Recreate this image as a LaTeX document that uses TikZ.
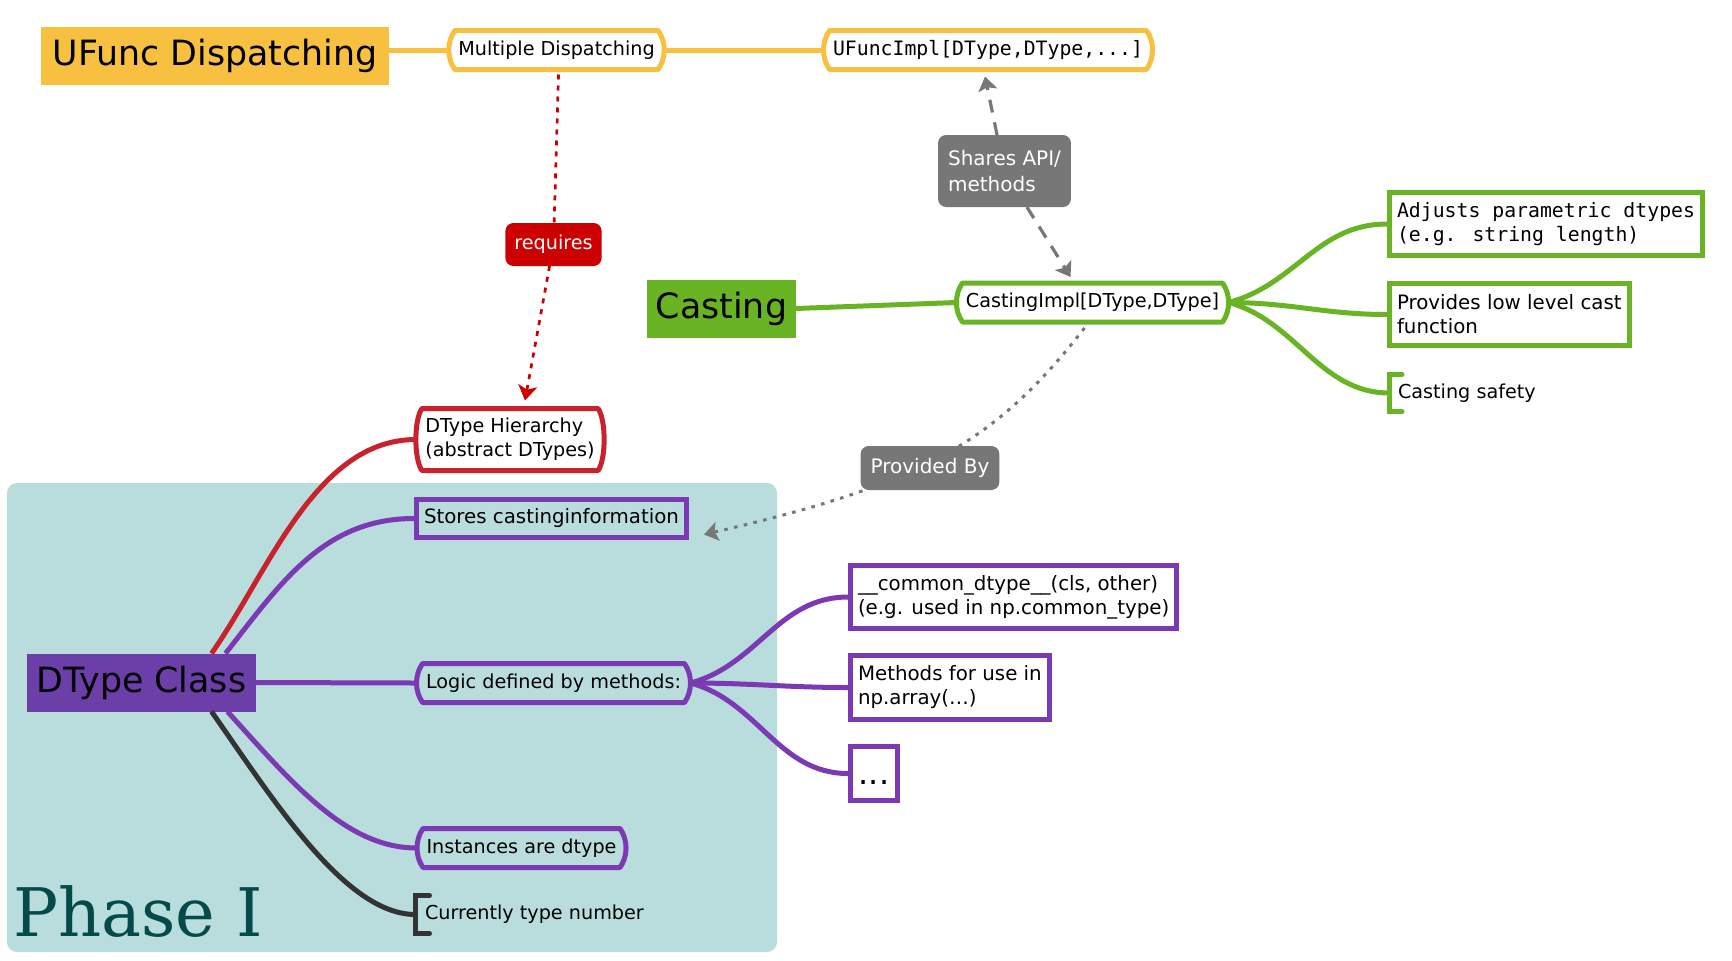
\documentclass[tikz,border=0pt]{standalone}
\usepackage{fontspec}
\setmainfont{DejaVu Sans}
\newfontfamily\monofont{DejaVu Sans Mono}
\newfontfamily\phasefont{DejaVu Serif}
\usetikzlibrary{arrows.meta,calc}
\definecolor{ufyellow}{HTML}{F7C040}
\definecolor{cgreen}{HTML}{68B425}
\definecolor{dpurple}{HTML}{6B3EA8}
\definecolor{ppurple}{HTML}{7B39B4}
\definecolor{rred}{HTML}{C8232D}
\definecolor{reqred}{HTML}{CC0000}
\definecolor{labgray}{HTML}{777777}
\definecolor{darkline}{HTML}{333333}
\definecolor{tealbg}{HTML}{B8DDDC}
\definecolor{phasecol}{HTML}{054A4A}
\tikzset{
  basefont/.style={font=\fontsize{9.6}{12}\selectfont},
  rectfont/.style={font=\fontsize{9.9}{12}\selectfont},
  monotext/.style={font=\monofont\fontsize{9.9}{12}\selectfont},
  titlebox/.style={font=\fontsize{17.4}{20}\selectfont, minimum height=29pt, inner xsep=4.5pt, inner ysep=0pt, outer sep=0pt, text=black},
  pillnode/.style={basefont, inner xsep=1.75pt, inner ysep=0pt, outer sep=0pt, minimum height=19.5pt, align=left},
  rectnode/.style={rectfont, draw=#1, line width=2.5pt, inner xsep=3.75pt, inner ysep=0pt, minimum height=19pt, align=left},
  bracketnode/.style={basefont, inner xsep=4.25pt, inner ysep=0pt, outer sep=0pt, minimum height=18.5pt},
  pillline/.style={line width=2.5pt, draw=#1, line join=round},
  bracketline/.style={line width=2.5pt, draw=#1, line cap=round, line join=miter},
  conn/.style={line width=2.5pt, draw=#1},
  labelbox/.style={fill=#1, rounded corners=4pt, text=white, inner xsep=5pt, inner ysep=0pt, outer sep=0pt, font=\fontsize{10}{13}\selectfont, align=left},
  gtip/.tip={Stealth[length=7pt,width=9.5pt,inset=1.5pt]},
  rtip/.tip={Stealth[length=7.5pt,width=9.5pt,inset=2pt]},
  dashline/.style={draw=labgray, line width=1.6pt, dash pattern=on 6.5pt off 5pt},
  dotline/.style={draw=labgray, line width=1.5pt, dash pattern=on 1.8pt off 3.2pt},
  reqline/.style={draw=reqred, line width=1.35pt, dash pattern=on 2.5pt off 3pt},
}
\newcommand\pillborder[2]{\draw[pillline=#2] (#1.north west) -- (#1.north east) to[out=-55,in=55,distance=7pt] (#1.south east) -- (#1.south west) to[out=125,in=-125,distance=7pt] (#1.north west) -- cycle;}
\begin{document}
\begin{tikzpicture}[x=0.5pt,y=-0.5pt]
\useasboundingbox (0,0) rectangle (1732,960);
% background region
\fill[tealbg, rounded corners=5pt] (7,483) rectangle (777,952);
\node[anchor=base west, inner sep=0pt, text=phasecol, font=\phasefont\fontsize{33.5}{34}\selectfont] (phase) at (13,936) {Phase I};

% nodes
\node[titlebox, fill=ufyellow, minimum width=174pt] (uf) at (215,56) {UFunc Dispatching};
\node[pillnode] (md) at (556.5,50) {Multiple Dispatching};
\node[pillnode, monotext] (ufi) at (988,50) {UFuncImpl[DType,DType,...]};
\node[titlebox, fill=cgreen, minimum width=74.5pt] (cast) at (721.5,308.5) {Casting};
\node[pillnode] (ci) at (1092.5,302.5) {CastingImpl[DType,DType]};
\node[rectnode=cgreen, anchor=west, minimum height=31.5pt, monotext] (adj) at (1387,224) {Adjusts parametric dtypes\\(e.g. string length)};
\node[rectnode=cgreen, anchor=west, minimum height=31pt] (prov) at (1387,314.5) {Provides low level cast\\function};
\node[bracketnode, anchor=west] (safe) at (1389.5,393) {Casting safety};
\node[pillnode, minimum height=31pt] (dth) at (510,439.5) {DType Hierarchy\\(abstract DTypes)};
\node[rectnode=ppurple, anchor=west] (sc) at (414,518.5) {Stores castinginformation};
\node[titlebox, fill=dpurple, minimum width=114.5pt] (dc) at (141.5,682.5) {DType Class};
\node[pillnode] (logic) at (553.5,683) {Logic defined by methods:};
\node[pillnode] (inst) at (521.5,848) {Instances are dtype};
\node[bracketnode, anchor=west, inner xsep=4.75pt, minimum height=19pt] (curr) at (415.5,914.5) {Currently type number};
\node[rectnode=ppurple, anchor=west, minimum height=31.5pt] (common) at (848,597) {\_\_common\_dtype\_\_(cls, other)\\(e.g. used in np.common\_type)};
\node[rectnode=ppurple, anchor=west, minimum height=32pt] (meth) at (848,687.5) {Methods for use in\\np.array(…)};
\node[rectnode=ppurple, minimum height=27pt, minimum width=23.5pt, font=\fontsize{16}{16}\selectfont, text height=12pt, text depth=1pt] (dots) at (874,773.5) {...};

% pill outlines
\pillborder{md}{ufyellow}
\pillborder{ufi}{ufyellow}
\pillborder{ci}{cgreen}
\pillborder{dth}{rred}
\pillborder{logic}{ppurple}
\pillborder{inst}{ppurple}

% brackets
\draw[bracketline=cgreen] ([xshift=6.25pt]safe.north west) -- (safe.north west) -- (safe.south west) -- ([xshift=6.25pt]safe.south west);
\draw[bracketline=darkline] ([xshift=7pt]curr.north west) -- (curr.north west) -- (curr.south west) -- ([xshift=7pt]curr.south west);

% mind map connectors
\draw[conn=ufyellow] (uf.east |- md.west) -- ([xshift=-3pt]md.west);
\draw[conn=ufyellow] ([xshift=3pt]md.east) -- ([xshift=-3pt]ufi.west);
\draw[conn=cgreen] (cast.east) -- ([xshift=-3pt]ci.west);
\draw[conn=cgreen] ([xshift=3pt]ci.east) to[out=15,in=180,distance=35pt] (adj.west);
\draw[conn=cgreen] ([xshift=3pt]ci.east) to[out=0,in=180] (prov.west);
\draw[conn=cgreen] ([xshift=3pt]ci.east) to[out=-15,in=180,distance=35pt] (safe.west);
\draw[conn=rred] ([xshift=35pt]dc.north) to[out=55,in=180,out distance=50pt,in distance=50pt] ([xshift=-3pt]dth.west);
\draw[conn=ppurple] ([xshift=42pt]dc.north) to[out=52,in=180,out distance=45pt,in distance=45pt] (sc.west);
\draw[conn=ppurple] (dc.east) -- ([xshift=-3pt]logic.west);
\draw[conn=ppurple] ([xshift=43pt]dc.south) to[out=-48,in=180,out distance=50pt,in distance=35pt] ([xshift=-3pt]inst.west);
\draw[conn=darkline] ([xshift=35pt]dc.south) to[out=-55,in=180,out distance=55pt,in distance=35pt] (curr.west);
\draw[conn=ppurple] ([xshift=3pt]logic.east) to[out=15,in=180,distance=35pt] (common.west);
\draw[conn=ppurple] ([xshift=3pt]logic.east) to[out=0,in=180] (meth.west);
\draw[conn=ppurple] ([xshift=3pt]logic.east) to[out=-15,in=180,distance=35pt] (dots.west);

% labelled relations
\node[labelbox=labgray, minimum height=36pt] (sh) at (1004.5,171) {Shares API/\\methods};
\draw[dashline, -gtip] (sh) -- ([xshift=-1.5pt,yshift=-3.5pt]ufi.south);
\draw[dashline, -gtip] (sh) -- ([xshift=-11pt,yshift=3pt]ci.north);

\node[labelbox=reqred, minimum height=21.5pt, inner xsep=4.5pt, font=\fontsize{9.6}{12}\selectfont] (req) at (553.5,244.5) {requires};
\draw[reqline] ([xshift=1pt,yshift=-2.5pt]md.south) -- (req);
\draw[reqline, -rtip] (req) -- ([xshift=7.5pt,yshift=4pt]dth.north);

\draw[dotline, -gtip] ([xshift=-4pt,yshift=-3pt]ci.south) to[out=-128,in=13,out distance=72pt,in distance=113pt] ([xshift=7.5pt,yshift=-8pt]sc.east);
\node[labelbox=labgray, minimum height=22pt] (pb) at (930,468) {Provided By};
\end{tikzpicture}
\end{document}
